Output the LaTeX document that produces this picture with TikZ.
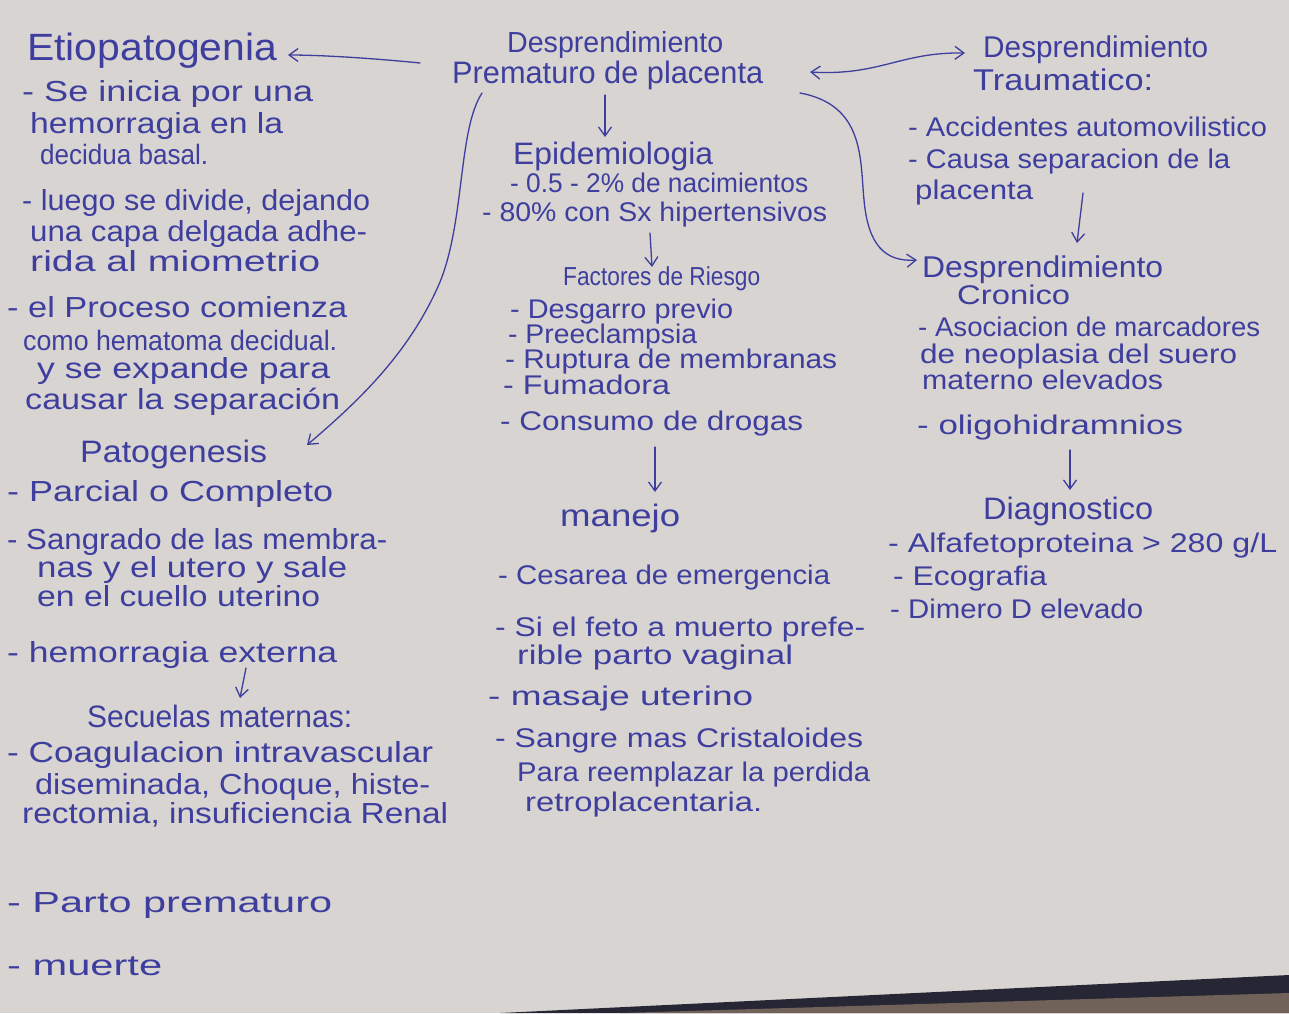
\documentclass[tikz,border=0pt]{standalone}
\usepackage{fontspec}
\setmainfont{Liberation Sans}
\usepackage{graphicx}
\usetikzlibrary{arrows.meta,calc}
\definecolor{paper}{RGB}{216,212,209}
\definecolor{ink}{RGB}{62,62,158}
\definecolor{edge}{RGB}{38,38,52}
\definecolor{wood}{RGB}{112,98,88}
\newcommand\fw[2]{\resizebox{#1pt}{\height}{#2}}
\tikzset{
  hw/.style={anchor=base west, inner sep=0pt, text=ink},
  lt/.style={hw, font=\fontsize{29}{33}\selectfont},
  ls/.style={hw, font=\fontsize{28}{32}\selectfont},
  ct/.style={hw, font=\fontsize{27}{31}\selectfont},
  cs/.style={hw, font=\fontsize{26}{30}\selectfont},
  hd/.style={hw, font=\fontsize{31}{35}\selectfont},
  arr/.style={draw=ink, line width=1.3pt, line cap=round, -{Straight Barb[length=9pt,width=13pt,line width=1.3pt]}},
  darr/.style={draw=ink, line width=1.3pt, line cap=round, {Straight Barb[length=9pt,width=13pt,line width=1.3pt]}-{Straight Barb[length=9pt,width=13pt,line width=1.3pt]}}
}
\begin{document}
\begin{tikzpicture}[x=1pt,y=-1pt]
\useasboundingbox (0,0) rectangle (1289,1013);
\fill[paper] (0,0) rectangle (1289,1013);
\fill[edge] (500,1013) -- (1289,975) -- (1289,1013) -- cycle;
\fill[wood] (620,1013) -- (1289,993) -- (1289,1013) -- cycle;

% ---------- left column ----------
\node[hw, font=\fontsize{38}{42}\selectfont] (etio) at (27,60) {\fw{250}{Etiopatogenia}};
\node[lt] (e1) at (22,101) {\fw{291}{- Se inicia por una}};
\node[lt] (e2) at (30,133) {\fw{253}{hemorragia en la}};
\node[ls] (e3) at (40,164) {\fw{168}{decidua basal.}};
\node[lt] (e4) at (22,210) {\fw{348}{- luego se divide, dejando}};
\node[lt] (e5) at (30,241) {\fw{337}{una capa delgada adhe-}};
\node[lt] (e6) at (30,271) {\fw{290}{rida al miometrio}};
\node[lt] (e7) at (7,317) {\fw{340}{- el Proceso comienza}};
\node[ls] (e8) at (23,350) {\fw{314}{como hematoma decidual.}};
\node[lt] (e9) at (37,378) {\fw{293}{y se expande para}};
\node[lt] (e10) at (25,409) {\fw{315}{causar la separación}};

\node[hd] (pato) at (80,462) {\fw{187}{Patogenesis}};
\node[lt] (p1) at (7,501) {\fw{326}{- Parcial o Completo}};
\node[lt] (p2) at (7,549) {\fw{380}{- Sangrado de las membra-}};
\node[lt] (p3) at (37,577) {\fw{310}{nas y el utero y sale}};
\node[lt] (p4) at (37,606) {\fw{283}{en el cuello uterino}};
\node[lt] (p5) at (7,662) {\fw{330}{- hemorragia externa}};
\node[hd] (secu) at (87,727) {\fw{265}{Secuelas maternas:}};
\node[lt] (s1) at (7,762) {\fw{426}{- Coagulacion intravascular}};
\node[lt] (s2) at (35,794) {\fw{395}{diseminada, Choque, histe-}};
\node[lt] (s3) at (22,823) {\fw{426}{rectomia, insuficiencia Renal}};
\node[lt] (s4) at (7,912) {\fw{325}{- Parto prematuro}};
\node[lt] (s5) at (7,975) {\fw{155}{- muerte}};

% ---------- center column ----------
\node[hw, font=\fontsize{29}{33}\selectfont] (m1) at (507,52) {\fw{216}{Desprendimiento}};
\node[hd] (m2) at (452,83) {\fw{311}{Prematuro de placenta}};
\node[hd] (epi) at (513,164) {\fw{200}{Epidemiologia}};
\node[ct] (ep1) at (510,192) {\fw{298}{- 0.5 - 2\% de nacimientos}};
\node[ct] (ep2) at (482,221) {\fw{345}{- 80\% con Sx hipertensivos}};
\node[cs] (fac) at (563,285) {\fw{197}{Factores de Riesgo}};
\node[ct] (f1) at (510,318) {\fw{223}{- Desgarro previo}};
\node[ct] (f2) at (508,343) {\fw{189}{- Preeclampsia}};
\node[ct] (f3) at (505,368) {\fw{332}{- Ruptura de membranas}};
\node[ct] (f4) at (503,394) {\fw{167}{- Fumadora}};
\node[ct] (f5) at (500,430) {\fw{303}{- Consumo de drogas}};
\node[hd] (man) at (560,526) {\fw{120}{manejo}};
\node[ct] (n1) at (498,584) {\fw{332}{- Cesarea de emergencia}};
\node[ct] (n2) at (495,636) {\fw{370}{- Si el feto a muerto prefe-}};
\node[ct] (n3) at (517,664) {\fw{276}{rible parto vaginal}};
\node[ct] (n4) at (488,705) {\fw{265}{- masaje uterino}};
\node[ct] (n5) at (495,747) {\fw{368}{- Sangre mas Cristaloides}};
\node[ct] (n6) at (517,781) {\fw{353}{Para reemplazar la perdida}};
\node[ct] (n7) at (525,811) {\fw{237}{retroplacentaria.}};

% ---------- right column ----------
\node[hw, font=\fontsize{30}{34}\selectfont] (tr) at (983,57) {\fw{225}{Desprendimiento}};
\node[hw, font=\fontsize{30}{34}\selectfont] (tr0) at (973,90) {\fw{180}{Traumatico:}};
\node[ct] (t1) at (908,136) {\fw{359}{- Accidentes automovilistico}};
\node[ct] (t2) at (908,168) {\fw{322}{- Causa separacion de la}};
\node[ct] (t3) at (915,199) {\fw{118}{placenta}};
\node[hw, font=\fontsize{30}{34}\selectfont] (cr) at (922,277) {\fw{241}{Desprendimiento}};
\node[ct] (cr0) at (957,304) {\fw{113}{Cronico}};
\node[ct] (c1) at (918,336) {\fw{342}{- Asociacion de marcadores}};
\node[ct] (c2) at (920,363) {\fw{317}{de neoplasia del suero}};
\node[ct] (c3) at (922,389) {\fw{241}{materno elevados}};
\node[ct] (c4) at (917,434) {\fw{266}{- oligohidramnios}};
\node[hd] (dia) at (983,519) {\fw{170}{Diagnostico}};
\node[ct] (d1) at (888,552) {\fw{389}{- Alfafetoproteina > 280 g/L}};
\node[ct] (d2) at (893,585) {\fw{154}{- Ecografia}};
\node[ct] (d3) at (890,618) {\fw{253}{- Dimero D elevado}};

% ---------- connectors ----------
\coordinate (aS) at (420,63);  \coordinate (aE) at (288,55);
\draw[arr] (aS) .. controls (370,58) and (320,55) .. (aE);
\coordinate (bS) at (810,72);  \coordinate (bE) at (965,53);
\draw[darr] (bS) .. controls (880,76) and (900,52) .. (bE);
\coordinate (cS) at (800,93);  \coordinate (cE) at (917,260);
\draw[arr] (cS) .. controls (865,105) and (860,160) .. (864,200) .. controls (868,245) and (885,262) .. (cE);
\coordinate (dS) at (482,93);  \coordinate (dE) at (307,445);
\draw[arr] (dS) .. controls (458,130) and (465,220) .. (440,282) .. controls (410,352) and (360,400) .. (dE);
\coordinate (g1) at (605,95);  \coordinate (g2) at (605,137);
\draw[arr] (g1) -- (g2);
\coordinate (h1) at (650,233); \coordinate (h2) at (652,267);
\draw[arr] (h1) -- (h2);
\coordinate (i1) at (655,447); \coordinate (i2) at (655,492);
\draw[arr] (i1) -- (i2);
\coordinate (j1) at (1083,193); \coordinate (j2) at (1077,243);
\draw[arr] (j1) -- (j2);
\coordinate (k1) at (1070,450); \coordinate (k2) at (1070,490);
\draw[arr] (k1) -- (k2);
\coordinate (q1) at (246,668); \coordinate (q2) at (240,698);
\draw[arr] (q1) -- (q2);
\end{tikzpicture}
\end{document}
